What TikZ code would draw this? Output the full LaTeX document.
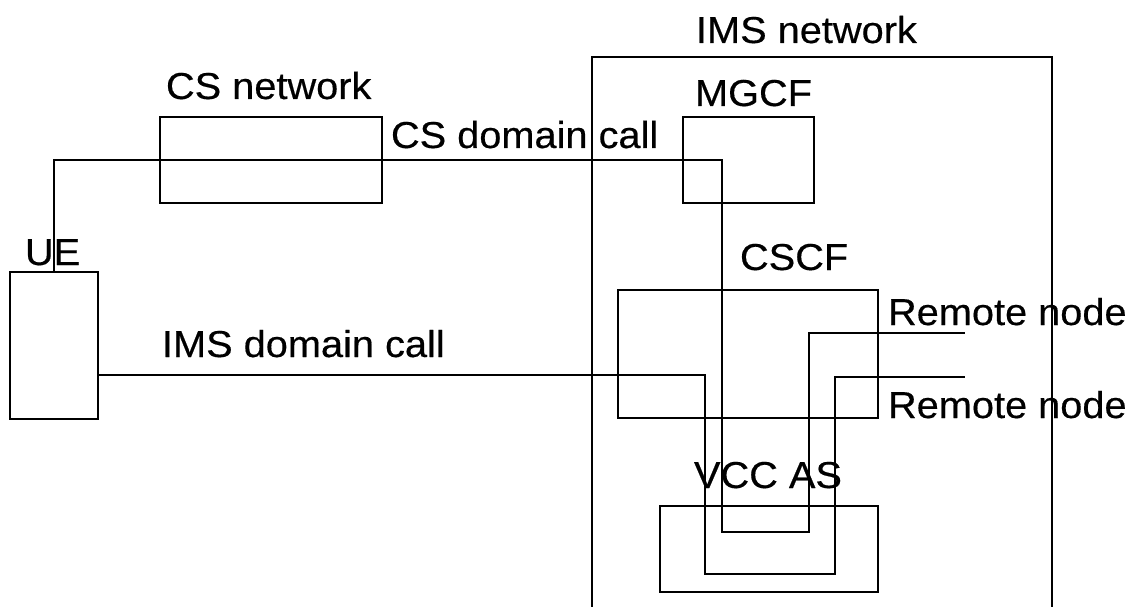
\documentclass[tikz,border=0pt]{standalone}
\usepackage{fontspec}
\setmainfont[FakeStretch=1.06,FakeBold=0.4]{Liberation Sans}
\begin{document}
\begin{tikzpicture}[x=1pt,y=-1pt,
  box/.style={draw,line width=1.8pt,rectangle,anchor=north west,inner sep=0pt,outer sep=0pt},
  lbl/.style={anchor=base west,inner sep=0pt,outer sep=0pt,font=\fontsize{37.5}{40}\selectfont},
  link/.style={line width=1.8pt}]
\useasboundingbox (0,0) rectangle (1138,607);
% IMS network (open at the bottom)
\coordinate (imsbl) at (592,607);
\coordinate (imsbr) at (1052,607);
\draw[link] (imsbl) -- (592,57) -- (1052,57) -- (imsbr);
% boxes
\node[box,minimum width=222pt,minimum height=86pt] (csnet) at (160,117) {};
\node[box,minimum width=131pt,minimum height=86pt] (mgcf) at (683,117) {};
\node[box,minimum width=260pt,minimum height=128pt] (cscf) at (618,290) {};
\node[box,minimum width=218pt,minimum height=86pt] (vcc) at (660,506) {};
\node[box,minimum width=88pt,minimum height=147pt] (ue) at (10,272) {};
% labels
\node[lbl] (limsnet) at (696,43) {IMS network};
\node[lbl] (lcsnet) at (166,99) {CS network};
\node[lbl] (lmgcf) at (695,106) {MGCF};
\node[lbl] (lcscall) at (391,148) {CS domain call};
\node[lbl] (lue) at (25,265) {UE};
\node[lbl] (limscall) at (162,357) {IMS domain call};
\node[lbl] (lcscf) at (740,270) {CSCF};
\node[lbl] (lvcc) at (694,488) {VCC AS};
\node[lbl] (lr1) at (888,325) {Remote node};
\node[lbl] (lr2) at (888,418) {Remote node};
% remote ends
\coordinate (r1) at (965,333);
\coordinate (r2) at (965,377);
% CS domain call path
\coordinate (csup) at (54,272);
\draw[link] (csup) -- (54,160) -- (722,160) -- (722,532) -- (809,532) -- (809,333) -- (r1);
% IMS domain call path
\draw[link] (ue.east |- 0,375) -- (705,375) -- (705,574) -- (835,574) -- (835,377) -- (r2);
\end{tikzpicture}
\end{document}
